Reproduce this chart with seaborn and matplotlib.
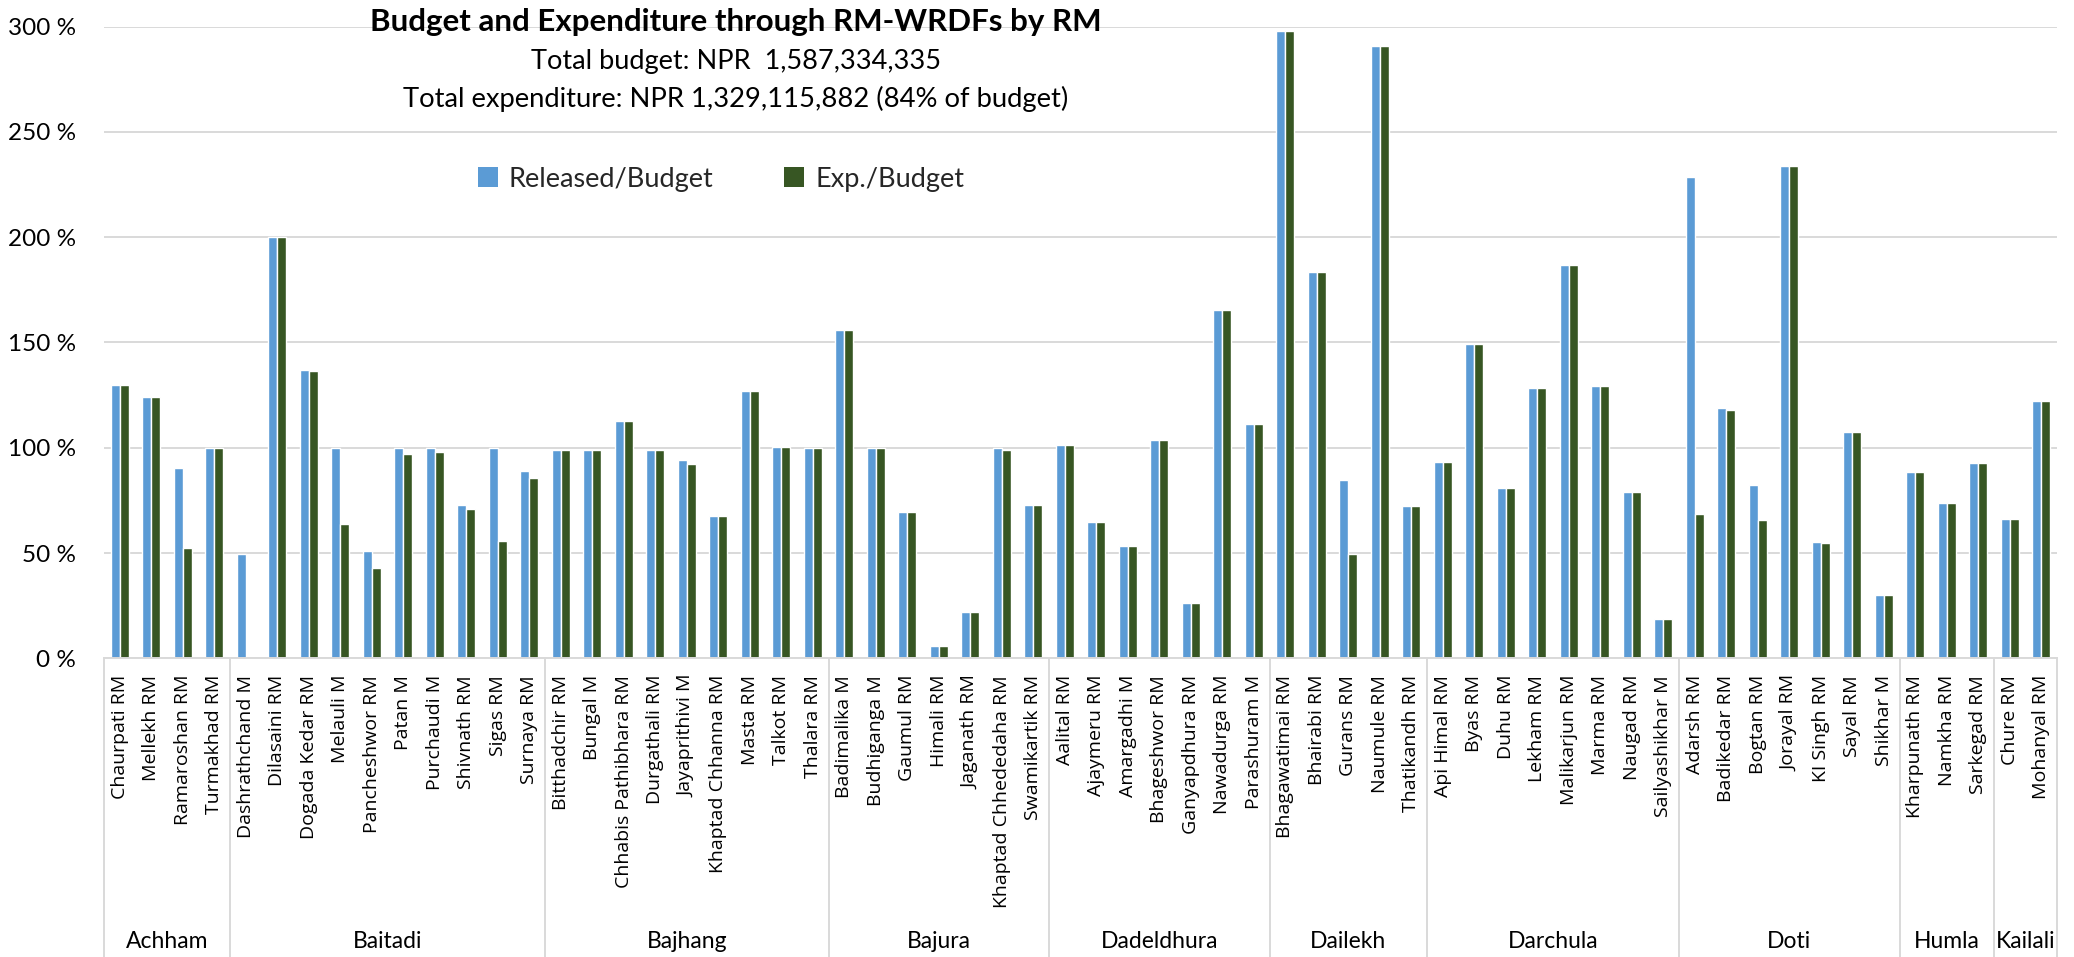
import matplotlib
matplotlib.use("Agg")
import matplotlib.pyplot as plt
import seaborn as sns
import pandas as pd
from matplotlib.patches import Patch

# ---------------- data ----------------
districts = ["Achham", "Baitadi", "Bajhang", "Bajura", "Dadeldhura",
             "Dailekh", "Darchula", "Doti", "Humla", "Kailali"]
district_rms = [
    ["Chaurpati RM", "Mellekh RM", "Ramaroshan RM", "Turmakhad RM"],
    ["Dashrathchand M", "Dilasaini RM", "Dogada Kedar RM", "Melauli M", "Pancheshwor RM",
     "Patan M", "Purchaudi M", "Shivnath RM", "Sigas RM", "Surnaya RM"],
    ["Bitthadchir RM", "Bungal M", "Chhabis Pathibhara RM", "Durgathali RM", "Jayaprithivi M",
     "Khaptad Chhanna RM", "Masta RM", "Talkot RM", "Thalara RM"],
    ["Badimalika M", "Budhiganga M", "Gaumul RM", "Himali RM", "Jaganath RM",
     "Khaptad Chhededaha RM", "Swamikartik RM"],
    ["Aalital RM", "Ajaymeru RM", "Amargadhi M", "Bhageshwor RM", "Ganyapdhura RM",
     "Nawadurga RM", "Parashuram M"],
    ["Bhagawatimai RM", "Bhairabi RM", "Gurans RM", "Naumule RM", "Thatikandh RM"],
    ["Api Himal RM", "Byas RM", "Duhu RM", "Lekham RM", "Malikarjun RM", "Marma RM",
     "Naugad RM", "Sailyashikhar M"],
    ["Adarsh RM", "Badikedar RM", "Bogtan RM", "Jorayal RM", "KI Singh RM", "Sayal RM", "Shikhar M"],
    ["Kharpunath RM", "Namkha RM", "Sarkegad RM"],
    ["Chure RM", "Mohanyal RM"],
]

released_budget = [
    130, 124, 90.4, 100,
    49.4, 200, 137, 100, 50.8, 100, 100, 72.8, 100, 89.2,
    98.9, 98.9, 112.9, 98.9, 94.3, 67.8, 127, 100.5, 100,
    155.8, 100, 69.3, 5.7, 21.9, 100, 72.8,
    101.4, 64.8, 53.5, 103.6, 26.1, 165.3, 111.3,
    297.8, 183.7, 84.6, 290.9, 72.3,
    93.1, 149.5, 81.0, 128.3, 186.8, 129.2, 78.8, 18.9,
    228.6, 118.9, 82.4, 233.7, 55.2, 107.5, 30.0,
    88.7, 73.7, 92.6,
    66.0, 122.0,
]
exp_budget = [
    130, 124, 52.5, 100,
    0, 200, 136.5, 63.8, 43.1, 97.2, 98.1, 71.1, 55.7, 85.8,
    98.9, 98.9, 112.9, 98.9, 92.1, 67.8, 127, 100.5, 100,
    155.8, 100, 69.3, 5.7, 21.9, 98.9, 72.8,
    101.4, 64.8, 53.5, 103.6, 26.1, 165.3, 111.3,
    297.8, 183.7, 49.4, 290.9, 72.3,
    93.1, 149.5, 81.0, 128.3, 186.8, 129.2, 78.8, 18.9,
    68.4, 118.1, 65.7, 233.7, 54.7, 107.5, 30.0,
    88.7, 73.7, 92.6,
    66.0, 122.0,
]
series_names = ["Released/Budget", "Exp./Budget"]
y_ticks = [0, 50, 100, 150, 200, 250, 300]

# ---------------- frame ----------------
rm_names = [rm for grp in district_rms for rm in grp]
rm_district = [d for d, grp in zip(districts, district_rms) for _ in grp]
df = pd.DataFrame({
    "RM": rm_names * 2,
    "District": rm_district * 2,
    "Series": [series_names[0]] * len(rm_names) + [series_names[1]] * len(rm_names),
    "Value": released_budget + exp_budget,
})

# ---------------- style ----------------
sns.set_theme(style="white")
plt.rcParams["font.family"] = ["Lato", "DejaVu Sans"]

BLUE = "#5B9BD5"
GREEN = "#375623"
GRID = "#D9D9D9"

W, H = 2074, 957
fig = plt.figure(figsize=(W / 100, H / 100), dpi=100)
ax_left, ax_right = 104, 2057
ax_top, ax_bot = 26.7, 658.3
ax = fig.add_axes([ax_left / W, 1 - ax_bot / H, (ax_right - ax_left) / W, (ax_bot - ax_top) / H])

sns.barplot(data=df, x="RM", y="Value", hue="Series", order=rm_names,
            hue_order=series_names, palette=[BLUE, GREEN], width=0.585,
            saturation=1, ax=ax, legend=False, errorbar=None)

n = len(rm_names)
ax.set_xlim(-0.5, n - 0.5)
ax.set_ylim(0, 300)
ax.set_yticks(y_ticks)
ax.set_yticklabels([f"{v} %" for v in y_ticks], fontsize=17.5, color="#000000")
ax.set_xlabel("")
ax.set_ylabel("")
ax.yaxis.grid(True, color=GRID, linewidth=1.4)
ax.set_axisbelow(True)
for s in ["top", "right", "left"]:
    ax.spines[s].set_visible(False)
ax.spines["bottom"].set_color(GRID)
ax.spines["bottom"].set_linewidth(1.4)
ax.tick_params(axis="y", length=0, pad=20)
ax.tick_params(axis="x", length=0, pad=12)
for lab in ax.get_xticklabels():
    lab.set_rotation(90)
    lab.set_fontfamily(["Open Sans", "DejaVu Sans"])
    lab.set_fontsize(14)
    lab.set_color("#000000")
    lab.set_va("top")

# group dividers and district labels
axis_px = ax_bot - ax_top
y_fig_bottom = -(H - ax_bot) / axis_px
y_group = -(941.7 - ax_bot) / axis_px
trans = ax.get_xaxis_transform()
start = 0
boundaries = [-0.5]
for d, grp in zip(districts, district_rms):
    end = start + len(grp)
    boundaries.append(end - 0.5)
    ax.text((start + end - 1) / 2, y_group, d, transform=trans, ha="center", va="center",
            fontsize=16.5, color="#000000")
    start = end
for b in boundaries:
    ax.plot([b, b], [0, y_fig_bottom], transform=trans, color=GRID, linewidth=1.4,
            clip_on=False, zorder=0)

# title block
cx = 736 / W
fig.text(cx, 1 - 22 / H, "Budget and Expenditure through RM-WRDFs by RM", ha="center", va="center",
         fontsize=22.5, fontweight="bold", color="#000000")
fig.text(cx, 1 - 61 / H, "Total budget: NPR  1,587,334,335", ha="center", va="center",
         fontsize=19.5, color="#000000")
fig.text(cx, 1 - 99 / H, "Total expenditure: NPR 1,329,115,882 (84% of budget)", ha="center",
         va="center", fontsize=19.7, color="#000000")

handles = [Patch(facecolor=BLUE, edgecolor="none"), Patch(facecolor=GREEN, edgecolor="none")]
fig.legend(handles, series_names, loc="center", bbox_to_anchor=(721 / W, 1 - 179 / H),
           ncol=2, frameon=False, fontsize=19.5, handlelength=0.75, handleheight=0.75,
           handletextpad=0.4, columnspacing=2.6)

fig.savefig("out.png", dpi=100)
